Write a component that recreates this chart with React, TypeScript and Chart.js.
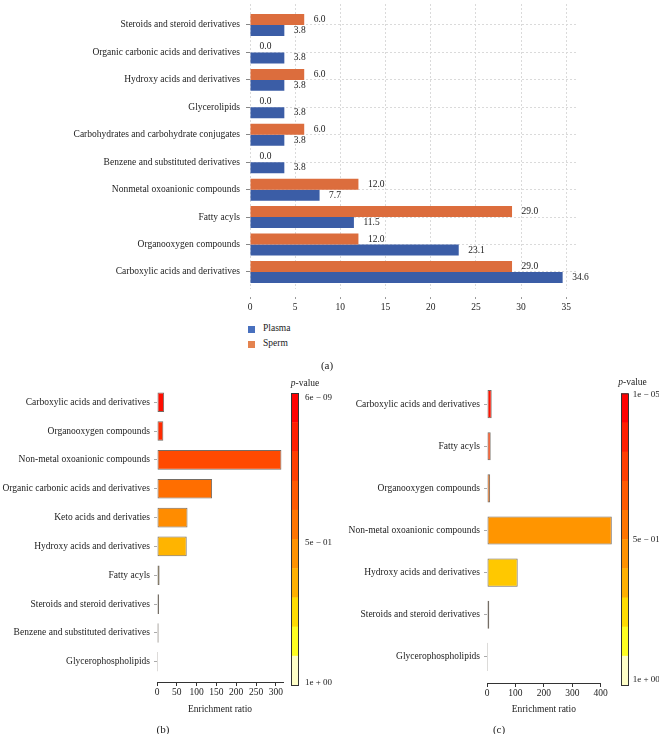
import React, { useEffect, useRef } from "react";
import { Chart, registerables } from "chart.js";
Chart.register(...registerables);

const FONT = "'Liberation Serif', 'Times New Roman', serif";
const TEXT = "#222";
Chart.defaults.font.family = FONT;
Chart.defaults.color = TEXT;

// ---------- (a) ----------
const catsA = [
  "Steroids and steroid derivatives",
  "Organic carbonic acids and derivatives",
  "Hydroxy acids and derivatives",
  "Glycerolipids",
  "Carbohydrates and carbohydrate conjugates",
  "Benzene and substituted derivatives",
  "Nonmetal oxoanionic compounds",
  "Fatty acyls",
  "Organooxygen compounds",
  "Carboxylic acids and derivatives",
];
const plasmaA = [3.8, 3.8, 3.8, 3.8, 3.8, 3.8, 7.7, 11.5, 23.1, 34.6];
const spermA = [6.0, 0.0, 6.0, 0.0, 6.0, 0.0, 12.0, 29.0, 12.0, 29.0];
const ticksA = [0, 5, 10, 15, 20, 25, 30, 35];

// ---------- (b) ----------
const catsB = [
  "Carboxylic acids and derivatives",
  "Organooxygen compounds",
  "Non-metal oxoanionic compounds",
  "Organic carbonic acids and derivatives",
  "Keto acids and derivaties",
  "Hydroxy acids and derivatives",
  "Fatty acyls",
  "Steroids and steroid derivatives",
  "Benzene and substituted derivatives",
  "Glycerophospholipids",
];
const ratioB = [18, 16, 314, 139, 77, 75, 6.5, 5, 4, 2.5];
const colorsB = ["#FF0D00", "#FF2A00", "#FF4A00", "#FF6E00", "#FF8C00", "#FFB400", "#E8C800", "#E8E040", "#F0F0A0", "#FFFFD8"];
const ticksB = [0, 50, 100, 150, 200, 250, 300];
const cbarLabelsB = ["6e \u2212 09", "5e \u2212 01", "1e + 00"];

// ---------- (c) ----------
const catsC = [
  "Carboxylic acids and derivatives",
  "Fatty acyls",
  "Organooxygen compounds",
  "Non-metal oxoanionic compounds",
  "Hydroxy acids and derivatives",
  "Steroids and steroid derivatives",
  "Glycerophospholipids",
];
const ratioC = [16.5, 13, 11, 439, 108, 8, 3.5];
const colorsC = ["#FF1200", "#FF3A00", "#FF6A00", "#FF9500", "#FFC800", "#E8E000", "#FFFFD8"];
const ticksC = [0, 100, 200, 300, 400];
const cbarLabelsC = ["1e \u2212 05", "5e \u2212 01", "1e + 00"];

// colour-bar bands (top = smallest p)
const cbarColors = ["#FF0000", "#FF1E00", "#FF3D00", "#FF5A00", "#FF7500", "#FF9200", "#FFB000", "#FFDC00", "#FFFF20", "#FFFFC8"];

const BLUE = "#3B5DA6";
const ORANGE = "#DC6D3D";

const valueLabelPlugin = {
  id: "valueLabels",
  afterDatasetsDraw(chart: any) {
    const ctx = chart.ctx;
    ctx.save();
    ctx.font = `9.5px ${FONT}`;
    ctx.fillStyle = TEXT;
    ctx.textAlign = "left";
    ctx.textBaseline = "middle";
    chart.data.datasets.forEach((ds: any, di: number) => {
      const meta = chart.getDatasetMeta(di);
      meta.data.forEach((el: any, i: number) => {
        const v = ds.data[i].x;
        ctx.fillText(v.toFixed(1), el.x + 9.5, el.y);
      });
    });
    ctx.restore();
  },
};

function makeColorbar(opts: any) {
  return {
    id: "colorbar",
    afterDraw(chart: any) {
      const ctx = chart.ctx;
      const { x, top, bottom, w, labels, labelX, labelYs, titleX, titleY } = opts;
      const n = cbarColors.length;
      const h = (bottom - top) / n;
      ctx.save();
      cbarColors.forEach((c, i) => {
        ctx.fillStyle = c;
        ctx.fillRect(x, top + i * h, w, h + 0.5);
      });
      ctx.strokeStyle = "#333";
      ctx.lineWidth = 1;
      ctx.strokeRect(x + 0.5, top + 0.5, w, bottom - top);
      ctx.fillStyle = TEXT;
      ctx.font = `9px ${FONT}`;
      ctx.textAlign = "left";
      ctx.textBaseline = "middle";
      labels.forEach((t: string, i: number) => ctx.fillText(t, labelX, labelYs[i]));
      ctx.font = `italic 9.5px ${FONT}`;
      const pw = ctx.measureText("p").width;
      ctx.font = `9.5px ${FONT}`;
      const rw = ctx.measureText("-value").width;
      const sx = titleX - (pw + rw) / 2;
      ctx.font = `italic 9.5px ${FONT}`;
      ctx.fillText("p", sx, titleY);
      ctx.font = `9.5px ${FONT}`;
      ctx.fillText("-value", sx + pw, titleY);
      ctx.restore();
    },
  };
}

function configA(): any {
  return {
    type: "bar",
    data: {
      datasets: [
        { label: "Sperm", data: spermA.map((v, i) => ({ x: v, y: i })), backgroundColor: ORANGE },
        { label: "Plasma", data: plasmaA.map((v, i) => ({ x: v, y: i })), backgroundColor: BLUE },
      ],
    },
    options: {
      indexAxis: "y",
      animation: false,
      responsive: false,
      layout: { padding: { left: 0, right: 81, top: 4, bottom: 0 } },
      plugins: { legend: { display: false }, tooltip: { enabled: false } },
      datasets: { bar: { categoryPercentage: 0.8, barPercentage: 1 } },
      scales: {
        x: {
          type: "linear",
          min: 0,
          max: 36.3,
          afterBuildTicks: (s: any) => { s.ticks = ticksA.map((v) => ({ value: v })); },
          afterFit: (s: any) => { s.height = 31; },
          grid: { color: "#dadada", tickLength: 11, tickColor: "#999", tickBorderDash: [0, 8, 2, 20] },
          border: { display: false, dash: [2, 2] },
          ticks: { font: { size: 9.5 }, padding: 2, color: TEXT },
        },
        y: {
          type: "linear",
          reverse: true,
          offset: false,
          min: -0.765,
          max: 9.62,
          afterBuildTicks: (s: any) => { s.ticks = catsA.map((_, i) => ({ value: i })); },
          afterFit: (s: any) => { s.width = 250; s.paddingTop = 0; s.paddingBottom = 0; },
          grid: { offset: false, color: "#dadada", tickLength: 4, tickColor: "#888" },
          border: { display: false, dash: [2, 2] },
          ticks: { autoSkip: false, font: { size: 9.5 }, padding: 6, color: TEXT, callback: (v: number) => catsA[v] },
        },
      },
    },
    plugins: [valueLabelPlugin],
  };
}

function configEnrich(cats: string[], vals: number[], colors: string[], ticks: number[], xmax: number, ymin: number, ymax: number, yW: number, padR: number, padT: number, xH: number, cbar: any, barPct: number): any {
  return {
    type: "bar",
    data: {
      datasets: [
        {
          data: vals.map((v, i) => ({ x: v, y: i })),
          backgroundColor: colors,
          borderColor: "rgba(70,60,50,0.75)",
          borderWidth: 1,
          borderSkipped: false,
          clip: false,
        },
      ],
    },
    options: {
      indexAxis: "y",
      animation: false,
      responsive: false,
      layout: { padding: { left: 0, right: padR, top: padT, bottom: 0 } },
      plugins: { legend: { display: false }, tooltip: { enabled: false } },
      datasets: { bar: { categoryPercentage: 1, barPercentage: barPct } },
      scales: {
        x: {
          type: "linear",
          min: 0,
          max: xmax,
          afterBuildTicks: (s: any) => { s.ticks = ticks.map((v) => ({ value: v })); },
          afterFit: (s: any) => { s.height = xH; },
          grid: { drawOnChartArea: false, drawTicks: true, tickLength: 4, tickColor: "#333" },
          border: { display: true, color: "#333", width: 1 },
          ticks: { font: { size: 9.5 }, padding: 1, color: TEXT },
          title: { display: true, text: "Enrichment ratio", font: { size: 9.5 }, color: TEXT, padding: { top: 0, bottom: 15 } },
        },
        y: {
          type: "linear",
          reverse: true,
          offset: false,
          min: ymin,
          max: ymax,
          afterBuildTicks: (s: any) => { s.ticks = cats.map((_, i) => ({ value: i })); },
          afterFit: (s: any) => { s.width = yW; s.paddingTop = 0; s.paddingBottom = 0; },
          grid: { offset: false, drawOnChartArea: false, drawTicks: true, tickLength: 3, tickColor: "#aaa" },
          border: { display: false },
          ticks: { autoSkip: false, font: { size: 9.5 }, padding: 4, color: TEXT, callback: (v: number) => cats[v] },
        },
      },
    },
    plugins: [makeColorbar(cbar)],
  };
}

function ChartCanvas({ make, left, top, width, height }: any) {
  const ref = useRef<HTMLCanvasElement>(null);
  useEffect(() => {
    const chart = new Chart(ref.current as HTMLCanvasElement, make());
    return () => chart.destroy();
  }, []);
  return (
    <canvas
      ref={ref}
      width={width}
      height={height}
      style={{ position: "absolute", left, top, width, height }}
    />
  );
}

const txt = (content: any, x: number, y: number, size = 9.5, center = true) => (
  <div
    style={{
      position: "absolute",
      left: x,
      top: y,
      transform: center ? "translate(-50%, -50%)" : "translate(0, -50%)",
      fontFamily: FONT,
      fontSize: size,
      color: TEXT,
      whiteSpace: "nowrap",
      lineHeight: 1,
    }}
  >
    {content}
  </div>
);

export default function App() {
  return (
    <div style={{ position: "absolute", left: 0, top: 0, width: 659, height: 734, background: "#fff", overflow: "hidden" }}>
      <ChartCanvas make={configA} left={0} top={0} width={659} height={320} />
      <ChartCanvas
        make={() =>
          configEnrich(catsB, ratioB, colorsB, ticksB, 318, -0.7, 9.7, 157, 55, 12, 48, {
            x: 291, top: 23, bottom: 315, w: 7,
            labels: cbarLabelsB, labelX: 305, labelYs: [28, 172.7, 313],
            titleX: 305, titleY: 13,
          }, 0.68)
        }
        left={0}
        top={370}
        width={338}
        height={360}
      />
      <ChartCanvas
        make={() =>
          configEnrich(catsC, ratioC, colorsC, ticksC, 400, -0.62, 6.62, 149, 58.3, 8, 47, {
            x: 283, top: 23.3, bottom: 315, w: 7,
            labels: cbarLabelsC, labelX: 294.7, labelYs: [25, 169.3, 310],
            titleX: 294.5, titleY: 12.3,
          }, 0.67)
        }
        left={338}
        top={370}
        width={321}
        height={360}
      />
      <div style={{ position: "absolute", left: 248, top: 325.5, width: 7, height: 7, background: "#4870BE" }} />
      <div style={{ position: "absolute", left: 248, top: 340.5, width: 7, height: 7, background: "#E4834F" }} />
      {txt("Plasma", 263, 329, 9.5, false)}
      {txt("Sperm", 263, 344, 9.5, false)}
      {txt("(a)", 327, 365, 11)}
      {txt("(b)", 163, 729, 11)}
      {txt("(c)", 499, 729, 11)}
    </div>
  );
}
